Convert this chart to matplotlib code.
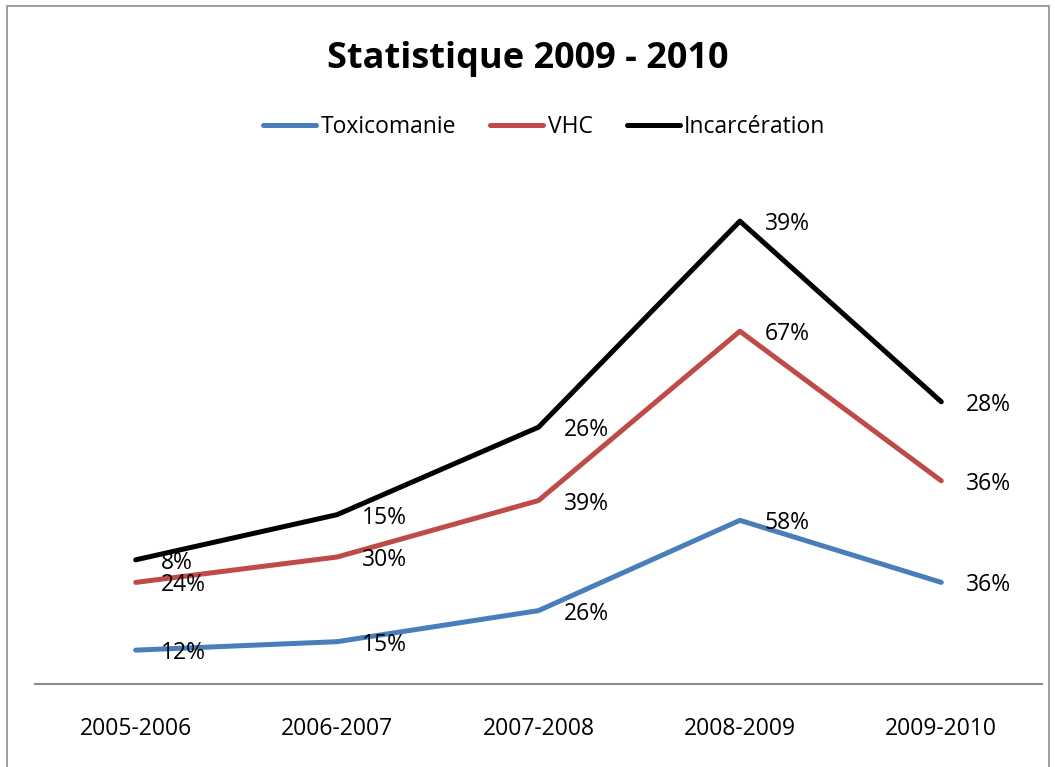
import numpy as np
import matplotlib.pyplot as plt
from matplotlib.patches import Rectangle

# data (stacked line chart, labels show each series' own value)
periods = ['2005-2006', '2006-2007', '2007-2008', '2008-2009', '2009-2010']
toxicomanie = [12, 15, 26, 58, 36]
vhc = [24, 30, 39, 67, 36]
incarceration = [8, 15, 26, 39, 28]

series_names = ['Toxicomanie', 'VHC', 'Incarcération']
series_vals = [toxicomanie, vhc, incarceration]
colors = ['#4A7EBB', '#BE4B48', '#000000']

plt.rcParams['font.family'] = ['Open Sans', 'DejaVu Sans']

fig = plt.figure(figsize=(10.55, 7.67), dpi=100)
ax = fig.add_axes([35 / 1055, 1 - 684 / 767, (1042 - 35) / 1055, (684 - 176) / 767])

# light frame around the chart
fig.patches.append(Rectangle((7 / 1055, -0.05), (1049 - 7) / 1055, 1.05 - 6 / 767,
                             transform=fig.transFigure, fill=False,
                             edgecolor='#8c8c8c', linewidth=1.2))

x = np.arange(len(periods))
cum = np.zeros(len(periods))
for name, vals, c in zip(series_names, series_vals, colors):
    cum = cum + np.array(vals)
    ax.plot(x, cum, color=c, linewidth=3.6, label=name, solid_capstyle='round')
    for xi, yi, v in zip(x, cum, vals):
        ax.annotate(f'{v}%', (xi, yi), xytext=(25, -3), textcoords='offset pixels',
                    ha='left', va='center', fontsize=16.5, color='black')

ax.set_xlim(-0.5, 4.5)
ax.set_ylim(0, 180)
ax.set_xticks(x)
ax.set_xticklabels(periods, fontsize=16.5)
ax.tick_params(axis='x', length=0, pad=24)
ax.set_yticks([])
for s in ['top', 'right', 'left']:
    ax.spines[s].set_visible(False)
ax.spines['bottom'].set_color('#8c8c8c')
ax.spines['bottom'].set_linewidth(1.5)

fig.text(0.5, 1 - 59 / 767, 'Statistique 2009 - 2010', ha='center', va='center',
         fontsize=26, fontweight='bold')
fig.legend(loc='center', bbox_to_anchor=(0.516, 1 - 127 / 767), ncol=3, frameon=False,
           fontsize=16.5, handlelength=2.3, handletextpad=0.2, columnspacing=1.5)

plt.savefig('out.png', dpi=100)
